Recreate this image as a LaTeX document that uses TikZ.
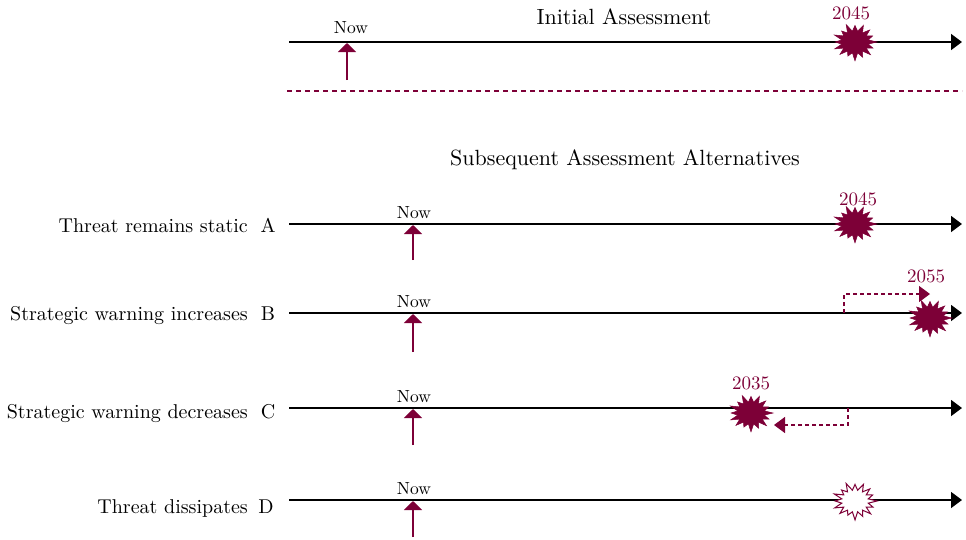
\documentclass[tikz,border=0pt]{standalone}
\usepackage{fontspec}
\setmainfont{lmroman10-regular.otf}
\usetikzlibrary{arrows.meta}
\definecolor{maroon}{RGB}{125,0,55}
\tikzset{
  timeline/.style={line width=1.5pt, black, -{Triangle[length=11pt,width=16pt]}},
  nowarrow/.style={line width=1.5pt, maroon, -{Triangle[length=9pt,width=18pt]}},
  dasharrow/.style={line width=1.2pt, maroon, dash pattern=on 4pt off 3pt, -{Triangle[length=11pt,width=16pt]}},
  nowlabel/.style={anchor=base, inner sep=0pt, font=\fontsize{17.5}{20}\selectfont},
  yearlabel/.style={anchor=base, inner sep=0pt, text=maroon, font=\fontsize{19}{22}\selectfont},
  rowlabel/.style={anchor=base east, inner sep=0pt, font=\fontsize{20}{22}\selectfont},
  letterlabel/.style={anchor=base, inner sep=0pt, font=\fontsize{20}{22}\selectfont},
  title/.style={anchor=base, inner sep=0pt, font=\fontsize{22}{26}\selectfont},
  burst/.pic={\path[pic actions] (0:22 and 18) -- (11.25:13.5 and 11) -- (22.5:19.4 and 15.8) -- (33.75:13.5 and 11) -- (45:22 and 18) -- (56.25:13.5 and 11) -- (67.5:20.2 and 16.6) -- (78.75:13.5 and 11) -- (90:23.1 and 18.9) -- (101.25:13.5 and 11) -- (112.5:18.7 and 15.3) -- (123.75:13.5 and 11) -- (135:21.3 and 17.5) -- (146.25:13.5 and 11) -- (157.5:22 and 18) -- (168.75:13.5 and 11) -- (180:19.8 and 16.2) -- (191.25:13.5 and 11) -- (202.5:22.4 and 18.4) -- (213.75:13.5 and 11) -- (225:18.9 and 15.5) -- (236.25:13.5 and 11) -- (247.5:23.1 and 18.9) -- (258.75:13.5 and 11) -- (270:20.2 and 16.6) -- (281.25:13.5 and 11) -- (292.5:22 and 18) -- (303.75:13.5 and 11) -- (315:20.9 and 17.1) -- (326.25:13.5 and 11) -- (337.5:19.1 and 15.7) -- (348.75:13.5 and 11) -- cycle;},
  filledburst/.style={fill=maroon, draw=maroon, line width=0.5pt},
  emptyburst/.style={fill=white, draw=maroon, line width=1pt}
}
\begin{document}
\begin{tikzpicture}[x=1pt,y=-1pt]
\useasboundingbox (0,0) rectangle (966,539);

% Initial assessment
\node[title] (t1) at (624,24) {Initial Assessment};
\coordinate (L0s) at (289,42);
\coordinate (L0e) at (962,42);
\draw[timeline] (L0s) -- (L0e);
\node[nowlabel] (now0) at (351,33) {Now};
\coordinate (n0b) at (347,80);
\coordinate (n0t) at (347,43);
\draw[nowarrow] (n0b) -- (n0t);
\pic[filledburst] (s0) at (855,42) {burst};
\node[yearlabel] (y0) at (851,19) {2045};

\coordinate (d0s) at (287,91);
\coordinate (d0e) at (962,91);
\draw[maroon, line width=1.2pt, dash pattern=on 5pt off 4pt] (d0s) -- (d0e);

\node[title] (t2) at (625,165) {Subsequent Assessment Alternatives};

% Row A
\node[rowlabel] (lA) at (248,232) {Threat remains static};
\node[letterlabel] (kA) at (268,232) {A};
\coordinate (LAs) at (289,224);
\coordinate (LAe) at (962,224);
\draw[timeline] (LAs) -- (LAe);
\node[nowlabel] (nowA) at (414,218) {Now};
\coordinate (nAb) at (413,260);
\coordinate (nAt) at (413,225);
\draw[nowarrow] (nAb) -- (nAt);
\pic[filledburst] (sA) at (855,224) {burst};
\node[yearlabel] (yA) at (858,205) {2045};

% Row B
\node[rowlabel] (lB) at (248,320) {Strategic warning increases};
\node[letterlabel] (kB) at (268,320) {B};
\coordinate (LBs) at (289,313);
\coordinate (LBe) at (962,313);
\draw[timeline] (LBs) -- (LBe);
\node[nowlabel] (nowB) at (414,307) {Now};
\coordinate (nBb) at (413,352);
\coordinate (nBt) at (413,314);
\draw[nowarrow] (nBb) -- (nBt);
\coordinate (bA) at (844,313);
\coordinate (bB) at (930,294);
\draw[dasharrow] (bA) |- (bB);
\pic[filledburst] (sB) at (930,318) {burst};
\node[yearlabel] (yB) at (926,282) {2055};

% Row C
\node[rowlabel] (lC) at (248,418) {Strategic warning decreases};
\node[letterlabel] (kC) at (268,418) {C};
\coordinate (LCs) at (289,408);
\coordinate (LCe) at (962,408);
\draw[timeline] (LCs) -- (LCe);
\node[nowlabel] (nowC) at (414,402) {Now};
\coordinate (nCb) at (413,445);
\coordinate (nCt) at (413,409);
\draw[nowarrow] (nCb) -- (nCt);
\pic[filledburst] (sC) at (751,413) {burst};
\node[yearlabel] (yC) at (751,389) {2035};
\coordinate (cA) at (848,408);
\coordinate (cB) at (774,425);
\draw[dasharrow] (cA) |- (cB);

% Row D
\node[rowlabel] (lD) at (248,513) {Threat dissipates};
\node[letterlabel] (kD) at (266,513) {D};
\coordinate (LDs) at (289,500);
\coordinate (LDe) at (962,500);
\draw[timeline] (LDs) -- (LDe);
\node[nowlabel] (nowD) at (414,494) {Now};
\coordinate (nDb) at (413,537);
\coordinate (nDt) at (413,501);
\draw[nowarrow] (nDb) -- (nDt);
\pic[emptyburst] (sD) at (855,501) {burst};
\end{tikzpicture}
\end{document}
